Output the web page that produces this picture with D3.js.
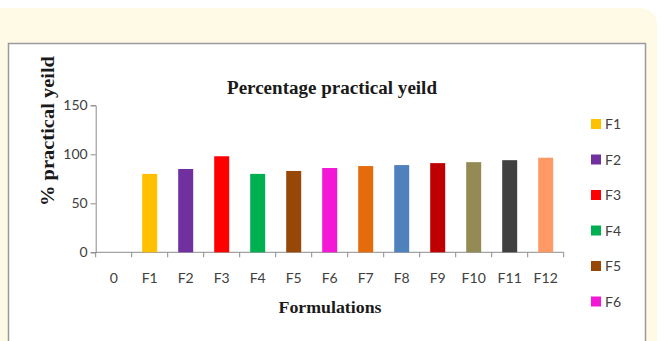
<!DOCTYPE html>
<html>
<head>
<meta charset="utf-8">
<script src="https://cdn.jsdelivr.net/npm/d3@7"></script>
<style>
  html, body { margin: 0; padding: 0; background: #ffffff; }
  svg { display: block; }
</style>
</head>
<body>
<svg id="chart" width="664" height="341"></svg>
<script>
// Percentage practical yield per formulation
const categories = ["0", "F1", "F2", "F3", "F4", "F5", "F6", "F7", "F8", "F9", "F10", "F11", "F12"];
const yieldValues = [null, 80, 85, 98, 80, 83, 86, 88, 89, 91, 92, 94, 96.5];
const barColors = [null, "#ffc000", "#7030a0", "#ff0000", "#00b050", "#974706", "#f218d6",
                   "#e46c0a", "#4f81bd", "#c00000", "#948a54", "#404040", "#ff9966"];
const yTicks = [0, 50, 100, 150];
const legendItems = ["F1", "F2", "F3", "F4", "F5", "F6"];

const svg = d3.select("#chart");

// page panel and chart frame
svg.append("rect").attr("x", -20).attr("y", 8).attr("width", 677).attr("height", 360)
  .attr("rx", 16).attr("fill", "#fffae6");
svg.append("rect").attr("x", 8.5).attr("y", 43.5).attr("width", 637).attr("height", 320)
  .attr("fill", "#ffffff").attr("stroke", "#9a9a9a").attr("stroke-width", 1.5);

const x = d3.scaleBand().domain(categories).range([95.7, 563.7]).paddingInner(0).paddingOuter(0);
const y = d3.scaleLinear().domain([0, 150]).range([252.3, 105.3]);

const tickFont = "Lato, 'Open Sans', sans-serif";

// y axis
const yAxis = svg.append("g").attr("transform", "translate(95.7,0)")
  .call(d3.axisLeft(y).tickValues(yTicks).tickSize(5).tickPadding(3));
yAxis.select(".domain").attr("stroke", "#8c8c8c");
yAxis.selectAll(".tick line").attr("stroke", "#8c8c8c");
yAxis.selectAll("text").attr("font-family", tickFont).attr("font-size", 14).attr("fill", "#404040");

// x axis with ticks at band edges
const xAxis = svg.append("g").attr("transform", "translate(0,252.3)");
xAxis.append("line").attr("x1", x.range()[0]).attr("x2", x.range()[1])
  .attr("stroke", "#8c8c8c");
const edges = categories.map(c => x(c)).concat([x.range()[1]]);
xAxis.selectAll("line.edge").data(edges).enter().append("line").attr("class", "edge")
  .attr("x1", d => d).attr("x2", d => d).attr("y1", 0).attr("y2", 5).attr("stroke", "#8c8c8c");
xAxis.selectAll("text").data(categories).enter().append("text")
  .attr("x", d => x(d) + x.bandwidth() / 2).attr("y", 31)
  .attr("text-anchor", "middle").attr("font-family", tickFont).attr("font-size", 14)
  .attr("fill", "#404040").text(d => d);

// bars
const barW = 15;
svg.append("g").selectAll("rect")
  .data(categories.map((c, i) => ({ c, v: yieldValues[i], col: barColors[i] })).filter(d => d.v != null))
  .enter().append("rect")
  .attr("x", d => x(d.c) + (x.bandwidth() - barW) / 2)
  .attr("y", d => y(d.v))
  .attr("width", barW)
  .attr("height", d => y(0) - y(d.v))
  .attr("fill", d => d.col);

// titles
const serif = "'Liberation Serif', 'DejaVu Serif', serif";
svg.append("text").attr("x", 332).attr("y", 94).attr("text-anchor", "middle")
  .attr("font-family", serif).attr("font-weight", "bold").attr("font-size", 18.5)
  .attr("textLength", 210).attr("lengthAdjust", "spacingAndGlyphs")
  .attr("fill", "#1a1a1a").text("Percentage practical yeild");
svg.append("text").attr("x", 330).attr("y", 313).attr("text-anchor", "middle")
  .attr("font-family", serif).attr("font-weight", "bold").attr("font-size", 17.5)
  .attr("textLength", 103).attr("lengthAdjust", "spacingAndGlyphs")
  .attr("fill", "#1a1a1a").text("Formulations");
svg.append("text").attr("transform", "translate(54,131) rotate(-90)").attr("text-anchor", "middle")
  .attr("font-family", serif).attr("font-weight", "bold").attr("font-size", 18)
  .attr("textLength", 150).attr("lengthAdjust", "spacingAndGlyphs")
  .attr("fill", "#1a1a1a").text("% practical yeild");

// legend
const legend = svg.append("g").selectAll("g").data(legendItems).enter().append("g")
  .attr("transform", (d, i) => `translate(591,${124 + i * 35.5})`);
legend.append("rect").attr("x", 0).attr("y", -5).attr("width", 10).attr("height", 10)
  .attr("fill", d => barColors[categories.indexOf(d)]);
legend.append("text").attr("x", 14).attr("y", 5).attr("font-family", tickFont)
  .attr("font-size", 14).attr("fill", "#404040").text(d => d);
</script>
</body>
</html>
